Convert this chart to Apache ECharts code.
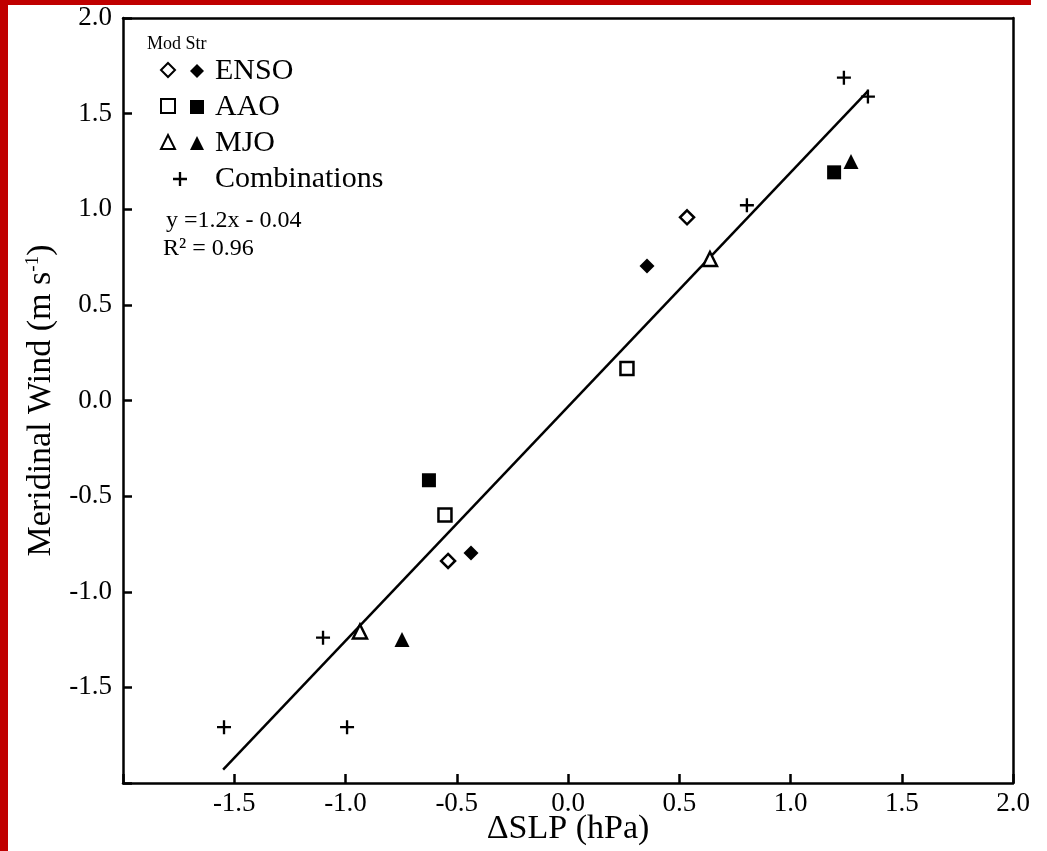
<!DOCTYPE html>
<html>
<head>
<meta charset="utf-8">
<script src="https://cdn.jsdelivr.net/npm/echarts@6/dist/echarts.min.js"></script>
<style>html,body{margin:0;padding:0;background:#fff;}#c{width:1047px;height:851px;}</style>
</head>
<body>
<div id="c"></div>
<script>
// ---- data ----
const ensoModX = [0.535, -0.539];
const ensoModY = [0.958, -0.839];
const ensoStrX = [0.355, -0.436];
const ensoStrY = [0.703, -0.797];
const aaoModX = [0.265, -0.553];
const aaoModY = [0.167, -0.599];
const aaoStrX = [1.196, -0.625];
const aaoStrY = [1.193, -0.417];
const mjoModX = [0.638, -0.935];
const mjoModY = [0.740, -1.208];
const mjoStrX = [1.272, -0.746];
const mjoStrY = [1.250, -1.250];
const combX = [1.240, 1.348, 0.804, -1.101, -1.546, -0.993];
const combY = [1.688, 1.589, 1.021, -1.240, -1.708, -1.708];
const fitX = [-1.55, 1.35];
const fitY = [-1.93, 1.62];
const xAxisLabels = ['-2.0', '-1.5', '-1.0', '-0.5', '0.0', '0.5', '1.0', '1.5', '2.0'];
const yAxisLabels = ['-2.0', '-1.5', '-1.0', '-0.5', '0.0', '0.5', '1.0', '1.5', '2.0'];

const zip = (xs, ys) => xs.map((x, i) => [x, ys[i]]);
const FONT = '"Liberation Serif", "Times New Roman", serif';
const plus = 'path://M5,0 H7 V5 H12 V7 H7 V12 H5 V7 H0 V5 H5 Z';

const openStyle = { color: '#fff', borderColor: '#000', borderWidth: 2.5, opacity: 1 };
const fillStyle = { color: '#000', borderColor: '#000', borderWidth: 0, opacity: 1 };

function sc(name, xs, ys, symbol, size, style) {
  return { name, type: 'scatter', data: zip(xs, ys), symbol, symbolSize: size,
           itemStyle: style, z: 5, emphasis: { disabled: true } };
}

const lineStyle = { color: '#000', width: 2.5 };
const hiddenSplit = () => ({ show: true, lineStyle: { color: 'rgba(0,0,0,0)', width: 0 } });
function tickStyle() { return { show: true, inside: true, length: 9, interval: 0, lineStyle: { color: '#000', width: 2.5 } }; }
function frameAxis(pos) {
  return { type: 'value', position: pos, min: -2, max: 2, interval: 0.5,
    axisLine: { show: true, onZero: false, lineStyle },
    axisTick: { show: false }, axisLabel: { show: false }, splitLine: { show: false } };
}

const chart = echarts.init(document.getElementById('c'));
const legendText = { fontFamily: FONT, fontSize: 30, color: '#000', lineHeight: 36 };
chart.setOption({
  animation: false,
  grid: { left: 123, right: 34, top: 18, bottom: 68, outerBoundsMode: 'none' },
  xAxis: [{
    type: 'value', min: -2, max: 2, interval: 0.5, position: 'bottom',
    name: 'ΔSLP (hPa)', nameLocation: 'middle', nameGap: 29, nameMoveOverlap: false,
    nameTextStyle: { fontFamily: FONT, fontSize: 34, color: '#000' },
    axisLine: { show: true, onZero: false, lineStyle },
    axisTick: tickStyle(),
    axisLabel: { fontFamily: FONT, fontSize: 27, color: '#000', margin: 7, interval: 0,
      formatter: (v) => { const s = xAxisLabels[Math.round((v + 2) / 0.5)]; return s === '-2.0' ? '' : s; } },
    splitLine: hiddenSplit()
  }, frameAxis('top')],
  yAxis: [{
    type: 'value', min: -2, max: 2, interval: 0.5, position: 'left',
    name: '{n|Meridinal Wind (m s}{s|-1}{n|)}', nameLocation: 'middle', nameGap: 64, nameMoveOverlap: false,
    nameTextStyle: { fontFamily: FONT, fontSize: 34, color: '#000',
      rich: { n: { fontFamily: FONT, fontSize: 34, color: '#000' },
              s: { fontFamily: FONT, fontSize: 19, color: '#000', verticalAlign: 'top', padding: [0, 0, 16, 0] } } },
    axisLine: { show: true, onZero: false, lineStyle },
    axisTick: tickStyle(),
    axisLabel: { fontFamily: FONT, fontSize: 27, color: '#000', margin: 11, interval: 0,
      formatter: (v) => { const s = yAxisLabels[Math.round((v + 2) / 0.5)]; return s === '-2.0' ? '' : s; } },
    splitLine: hiddenSplit()
  }, frameAxis('right')],
  legend: [
    { data: ['ENSO Mod', 'AAO Mod', 'MJO Mod'], orient: 'vertical', left: 160, top: 52,
      itemWidth: 14, itemHeight: 14, itemGap: 0, selectedMode: false, padding: 0,
      formatter: () => ' ', textStyle: legendText },
    { data: ['ENSO', 'AAO', 'MJO'], orient: 'vertical', left: 190, top: 53,
      itemWidth: 14, itemHeight: 14, itemGap: 0, selectedMode: false, padding: 0,
      textStyle: Object.assign({ padding: [0, 0, 0, 6] }, legendText) },
    { data: ['Combinations'], orient: 'vertical', left: 173, top: 53 + 3 * 36,
      itemWidth: 14, itemHeight: 14, itemGap: 0, selectedMode: false, padding: 0,
      textStyle: Object.assign({ padding: [0, 0, 0, 23] }, legendText) }
  ],
  graphic: [
    { type: 'rect', left: 0, top: 0, shape: { width: 8, height: 851 }, style: { fill: '#c00000' }, z: 100 },
    { type: 'rect', left: 0, top: 0, shape: { width: 1031, height: 5 }, style: { fill: '#c00000' }, z: 100 },
    { type: 'text', left: 147, top: 35, style: { text: 'Mod Str', font: '18px ' + FONT, fill: '#000' } },
    { type: 'text', left: 166, top: 209, style: { text: 'y =1.2x - 0.04', font: '24px ' + FONT, fill: '#000' } },
    { type: 'text', left: 163, top: 237, style: { text: 'R² = 0.96', font: '24px ' + FONT, fill: '#000' } }
  ],
  series: [
    { name: 'fit', type: 'line', data: zip(fitX, fitY), symbol: 'none',
      lineStyle: { color: '#000', width: 2.5 }, z: 3, silent: true },
    sc('ENSO Mod', ensoModX, ensoModY, 'diamond', 14, openStyle),
    sc('ENSO', ensoStrX, ensoStrY, 'diamond', 15, fillStyle),
    sc('AAO Mod', aaoModX, aaoModY, 'rect', 13, openStyle),
    sc('AAO', aaoStrX, aaoStrY, 'rect', 14, fillStyle),
    sc('MJO Mod', mjoModX, mjoModY, 'triangle', 14, openStyle),
    sc('MJO', mjoStrX, mjoStrY, 'triangle', 15, fillStyle),
    sc('Combinations', combX, combY, plus, 14, fillStyle)
  ]
});
</script>
</body>
</html>
